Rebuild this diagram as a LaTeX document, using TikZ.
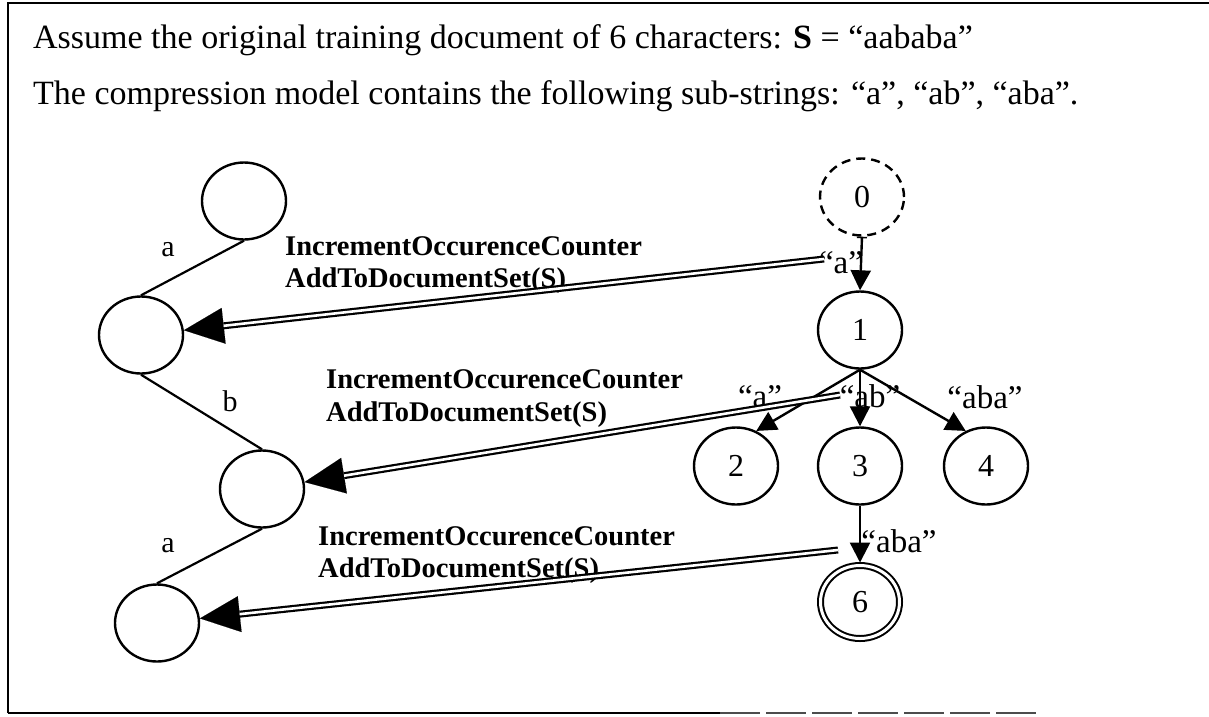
\documentclass[tikz,border=0pt]{standalone}
\usepackage{fontspec}
\setmainfont{Liberation Serif}
\usetikzlibrary{arrows.meta,shapes.geometric,calc}

\newcommand\fsz[1]{\fontsize{#1}{#1}\selectfont}

\begin{document}
\begin{tikzpicture}[x=1pt,y=-1pt,
  state/.style={ellipse, draw, line width=2.4pt, minimum width=84pt,
    minimum height=77pt, inner sep=0pt, font={\fsz{32}}},
  startstate/.style={state, dash pattern=on 9pt off 6pt},
  finalstate/.style={state, double, double distance=3pt, line width=2pt,
    minimum width=79pt, minimum height=73pt},
  chainedge/.style={line width=2.2pt},
  treeedge/.style={line width=2.4pt, -{Triangle[length=20pt,width=20pt]}},
  tiphead/.style={line width=0.1pt, -{Triangle[length=40pt,width=36pt]}},
  dblarrow/.style={double, double distance=2.6pt, line width=2.2pt,
    shorten >=40pt},
  edgelbl/.style={inner sep=0pt, font={\fsz{33}}},
  chainlbl/.style={inner sep=0pt, font={\fsz{30}}},
  oplbl/.style={anchor=base west, inner sep=0pt, font={\fsz{28.5}\bfseries}},
  textline/.style={anchor=base west, inner sep=0pt, font={\fsz{34}}},
  frame/.style={line width=2.5pt}
]
\useasboundingbox (0,0) rectangle (1209,716);

% outer frame
\draw[frame] (8,713) -- (8,3) -- (1209,3);
\draw[frame] (8,713) -- (720,713);
\draw[line width=2pt, black!70, dash pattern=on 40pt off 6pt] (720,713) -- (1040,713);

% heading text
\node[textline] (head1) at (33,48)
  {Assume the original training document of 6 characters: \textbf{S} = “aababa”};
\node[textline] (head2) at (33,104)
  {The compression model contains the following sub-strings: “a”, “ab”, “aba”.};

% document chain (left)
\node[state] (L0) at (244,201) {};
\node[state] (L1) at (141,335) {};
\node[state] (L2) at (262,489) {};
\node[state] (L3) at (157,623) {};
\draw[chainedge] (L0.south) -- (L1.north);
\draw[chainedge] (L1.south) -- (L2.north);
\draw[chainedge] (L2.south) -- (L3.north);
\node[chainlbl] (la1) at (168,250) {a};
\node[chainlbl] (lb)  at (230,401) {b};
\node[chainlbl] (la2) at (168,546) {a};

% compression model tree (right)
\node[startstate] (n0) at (862,197) {0};
\node[state] (n1) at (860,330) {1};
\node[state] (n2) at (736,466) {2};
\node[state] (n3) at (860,466) {3};
\node[state] (n4) at (986,466) {4};
\node[finalstate] (n6) at (860,602) {6};

\draw[treeedge, {Bar[width=10pt,line width=1.6pt]}-{Triangle[length=20pt,width=20pt]}] (n0.south) -- (n1.north);
\draw[treeedge] (n1.south) -- (n2.60);
\draw[treeedge] (n1.south) -- (n3.north);
\draw[treeedge] (n1.south) -- (n4.120);
\draw[treeedge, shorten >=2pt] (n3.south) -- (n6.north);

\node[edgelbl, anchor=base] (ea)   at (841,273) {“a”};
\node[edgelbl, anchor=base] (eaa)  at (760,407) {“a”};
\node[edgelbl, anchor=base] (eab)  at (870,407) {“ab”};
\node[edgelbl, anchor=base] (eaba) at (985,408) {“aba”};
\node[edgelbl, anchor=base] (e6)   at (899,552) {“aba”};

% operations applied while matching
\node[oplbl] (op1a) at (285,255) {IncrementOccurenceCounter};
\node[oplbl] (op1b) at (285,287) {AddToDocumentSet(S)};
\node[oplbl] (op2a) at (326,388) {IncrementOccurenceCounter};
\node[oplbl] (op2b) at (326,421) {AddToDocumentSet(S)};
\node[oplbl] (op3a) at (318,545) {IncrementOccurenceCounter};
\node[oplbl] (op3b) at (318,577) {AddToDocumentSet(S)};

\coordinate (s1) at (824,259);
\coordinate (s2) at (840,395);
\coordinate (s3) at (838,550);

\draw[tiphead] (s1) -- (L1);
\draw[dblarrow] (s1) -- (L1);
\draw[tiphead] (s2) -- (L2);
\draw[dblarrow] (s2) -- (L2);
\draw[tiphead] (s3) -- (L3);
\draw[dblarrow] (s3) -- (L3);
\end{tikzpicture}
\end{document}
